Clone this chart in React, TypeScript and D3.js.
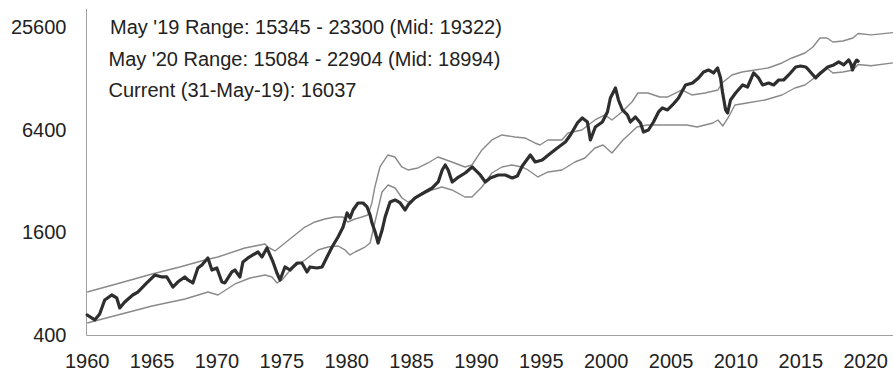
import React from "react";
import * as d3 from "d3";

const W = 893;
const H = 371;

// [year, value]
const indexPoints: [number, number][] = [
  [1960.0, 524], [1960.58, 490], [1960.96, 531], [1961.35, 641], [1961.89, 686], [1962.28, 659],
  [1962.51, 576], [1962.89, 624], [1963.51, 686], [1963.9, 714], [1964.59, 807], [1965.21, 898],
  [1965.75, 875], [1966.14, 875], [1966.6, 764], [1966.98, 817], [1967.52, 875], [1967.76, 840],
  [1968.14, 807], [1968.53, 987], [1968.84, 1028], [1969.3, 1130], [1969.61, 961], [1969.99, 987],
  [1970.38, 817], [1970.61, 807], [1971.15, 936], [1971.38, 961], [1971.77, 875], [1972.0, 1071],
  [1972.39, 1130], [1972.77, 1177], [1973.16, 1225], [1973.47, 1145], [1973.85, 1293], [1974.08, 1177],
  [1974.32, 1071], [1974.62, 923], [1974.86, 840], [1975.24, 1001], [1975.63, 961], [1976.17, 1056],
  [1976.55, 1056], [1976.94, 936], [1977.17, 1001], [1977.71, 987], [1978.1, 1001], [1978.48, 1145],
  [1978.87, 1310], [1979.33, 1500], [1979.72, 1716], [1980.03, 2073], [1980.26, 1938], [1980.49, 2159],
  [1980.87, 2372], [1981.26, 2372], [1981.57, 2248], [1981.8, 2018], [1981.95, 1811], [1982.19, 1604],
  [1982.42, 1383], [1982.73, 1648], [1982.96, 1964], [1983.34, 2404], [1983.73, 2470], [1984.12, 2372],
  [1984.5, 2159], [1984.73, 2309], [1985.27, 2538], [1986.05, 2752], [1986.59, 2904], [1987.05, 3149],
  [1987.36, 3702], [1987.59, 3960], [1987.82, 3702], [1988.13, 3149], [1988.52, 3324], [1989.13, 3555],
  [1989.67, 3855], [1989.9, 3702], [1990.29, 3461], [1990.68, 3149], [1991.06, 3324], [1991.68, 3461],
  [1992.22, 3461], [1992.76, 3324], [1993.15, 3414], [1993.53, 3907], [1994.15, 4532], [1994.53, 4123],
  [1995.07, 4236], [1995.54, 4532], [1996.23, 4981], [1996.85, 5400], [1997.24, 5936], [1997.78, 6977],
  [1998.16, 7464], [1998.55, 7072], [1998.78, 5548], [1999.16, 6610], [1999.7, 7072], [2000.09, 8093],
  [2000.32, 9774], [2000.71, 11184], [2000.94, 9514], [2001.25, 8314], [2001.63, 7772], [2001.86, 7072],
  [2002.25, 7565], [2002.64, 6977], [2002.87, 6180], [2003.25, 6349], [2003.64, 7072], [2004.03, 8093],
  [2004.33, 8541], [2004.72, 8314], [2005.11, 8894], [2005.57, 9774], [2006.11, 11646], [2006.65, 11964],
  [2007.11, 12800], [2007.5, 13879], [2007.88, 14258], [2008.27, 13693], [2008.58, 14649], [2008.81, 12800],
  [2008.96, 10597], [2009.2, 8314], [2009.35, 7984], [2009.58, 9514], [2009.97, 10455], [2010.51, 11646],
  [2010.89, 11336], [2011.36, 13693], [2011.74, 12800], [2012.05, 11646], [2012.51, 11964], [2012.9, 11646],
  [2013.29, 12458], [2013.67, 12458], [2014.06, 13329], [2014.6, 14848], [2014.98, 15050], [2015.37, 14848],
  [2015.6, 14258], [2016.14, 12800], [2016.53, 13693], [2017.07, 14848], [2017.53, 15254], [2017.92, 15884],
  [2018.3, 15254], [2018.69, 16318], [2018.85, 15500], [2018.98, 14258], [2019.15, 15600], [2019.3, 16300],
  [2019.41, 16037],
];

const upperBand: [number, number][] = [
  [1960.0, 714], [1962.53, 807], [1965.0, 911], [1967.14, 1001], [1969.07, 1100], [1970.07, 1145],
  [1972.15, 1293], [1972.93, 1328], [1973.7, 1365], [1973.93, 1310], [1974.47, 1242], [1975.24, 1383],
  [1976.01, 1541], [1976.78, 1716], [1977.55, 1836], [1978.32, 1912], [1979.09, 1964], [1979.71, 1964],
  [1980.09, 1836], [1980.63, 1912], [1981.17, 1964], [1981.63, 2018], [1981.94, 2372], [1982.17, 2944],
  [1982.56, 3855], [1983.17, 4532], [1983.71, 4411], [1984.25, 3855], [1984.72, 3702], [1985.49, 3803],
  [1986.26, 4068], [1987.03, 4411], [1988.11, 4123], [1989.11, 3855], [1989.65, 3960], [1990.42, 4848],
  [1991.19, 5548], [1991.96, 5936], [1992.96, 5778], [1993.73, 5700], [1994.5, 5328], [1994.89, 5186],
  [1995.5, 5548], [1996.58, 5548], [1997.05, 6097], [1998.12, 6349], [1999.13, 7265], [1999.9, 7772],
  [2000.44, 7265], [2001.21, 8093], [2001.98, 9260], [2002.44, 10455], [2003.21, 10455], [2004.14, 9907],
  [2004.75, 9907], [2005.83, 10887], [2006.6, 10177], [2007.6, 10455], [2008.61, 10887], [2008.92, 11964],
  [2009.69, 13329], [2010.46, 13879], [2011.46, 14258], [2012.47, 14649], [2013.54, 15671], [2014.31, 16764],
  [2015.31, 17932], [2015.93, 19441], [2016.47, 21952], [2017.01, 21952], [2017.47, 20800], [2018.24, 21081],
  [2019.01, 21952], [2019.41, 23300], [2020.41, 22904], [2022.1, 23600],
];

const lowerBand: [number, number][] = [
  [1960.0, 470], [1965.0, 591], [1967.54, 650], [1969.31, 714], [1970.08, 686], [1971.39, 796],
  [1972.55, 863], [1973.7, 898], [1974.24, 875], [1974.63, 807], [1975.01, 840], [1975.78, 987],
  [1976.78, 1100], [1977.79, 1259], [1978.56, 1310], [1979.33, 1328], [1979.87, 1259], [1980.25, 1177],
  [1980.64, 1225], [1981.41, 1310], [1981.8, 1383], [1982.18, 1836], [1982.72, 2752], [1983.19, 3024],
  [1983.73, 2904], [1984.26, 2538], [1984.72, 2404], [1985.49, 2572], [1986.57, 2827], [1987.34, 2944],
  [1988.11, 2827], [1989.11, 2572], [1989.65, 2572], [1990.42, 2944], [1991.19, 3555], [1991.96, 3855],
  [1992.73, 3960], [1993.5, 3855], [1993.97, 3702], [1994.74, 3368], [1995.51, 3603], [1996.59, 3702],
  [1997.59, 4123], [1998.36, 4352], [1999.13, 4981], [1999.75, 5186], [2000.44, 4656], [2001.29, 5548],
  [2002.37, 6610], [2003.14, 6792], [2004.68, 6792], [2006.22, 6792], [2006.99, 6610], [2008.23, 6977],
  [2008.61, 7265], [2008.99, 6700], [2009.38, 7464], [2009.92, 8894], [2010.84, 9137], [2012.23, 9514],
  [2013.54, 10177], [2014.54, 11184], [2015.31, 11646], [2015.93, 12627], [2016.47, 13879], [2017.01, 14649],
  [2017.47, 13693], [2018.24, 13879], [2019.01, 14258], [2019.41, 15345], [2020.41, 15084], [2022.1, 15700],
];

const yTicks = [400, 1600, 6400, 25600];
const xTicks = [1960, 1965, 1970, 1975, 1980, 1985, 1990, 1995, 2000, 2005, 2010, 2015, 2020];
const notes = [
  "May '19 Range: 15345 - 23300 (Mid: 19322)",
  "May '20 Range: 15084 - 22904 (Mid: 18994)",
  "Current (31-May-19): 16037",
];

export default function App() {
  const x = d3.scaleLinear().domain([1960, 2022.1]).range([87.2, 893]);
  const y = d3.scaleLog().domain([400, 32450]).range([335, 9]);
  const line = d3
    .line<[number, number]>()
    .x((d) => x(d[0]))
    .y((d) => y(d[1]));

  const font = "'Liberation Sans', Arial, sans-serif";
  const noteX = [110, 108.5, 108.5];
  const noteY = [34, 66, 97];

  return (
    <div style={{ position: "absolute", left: 0, top: 0 }}>
      <svg width={W} height={H} style={{ display: "block" }} fontFamily={font}>
        <rect width={W} height={H} fill="#ffffff" />
        <line x1={86.5} x2={86.5} y1={9} y2={335.5} stroke="#a0a0a0" strokeWidth={1} />
        <line x1={86.5} x2={W} y1={335.5} y2={335.5} stroke="#a0a0a0" strokeWidth={1} />
        {yTicks.map((t) => (
          <text key={t} x={66.5} y={y(t)} dy="0.36em" textAnchor="end" fontSize={20} fill="#222">
            {t}
          </text>
        ))}
        {xTicks.map((t) => (
          <text key={t} x={x(t)} y={368} textAnchor="middle" fontSize={20} fill="#222">
            {t}
          </text>
        ))}
        <path d={line(upperBand) || ""} fill="none" stroke="#8a8a8a" strokeWidth={1.4} strokeLinejoin="round" />
        <path d={line(lowerBand) || ""} fill="none" stroke="#8a8a8a" strokeWidth={1.4} strokeLinejoin="round" />
        <path d={line(indexPoints) || ""} fill="none" stroke="#2e2e2e" strokeWidth={3.2} strokeLinejoin="round" strokeLinecap="round" />
        {notes.map((n, i) => (
          <text key={i} x={noteX[i]} y={noteY[i]} fontSize={20} fill="#222">
            {n}
          </text>
        ))}
      </svg>
    </div>
  );
}
